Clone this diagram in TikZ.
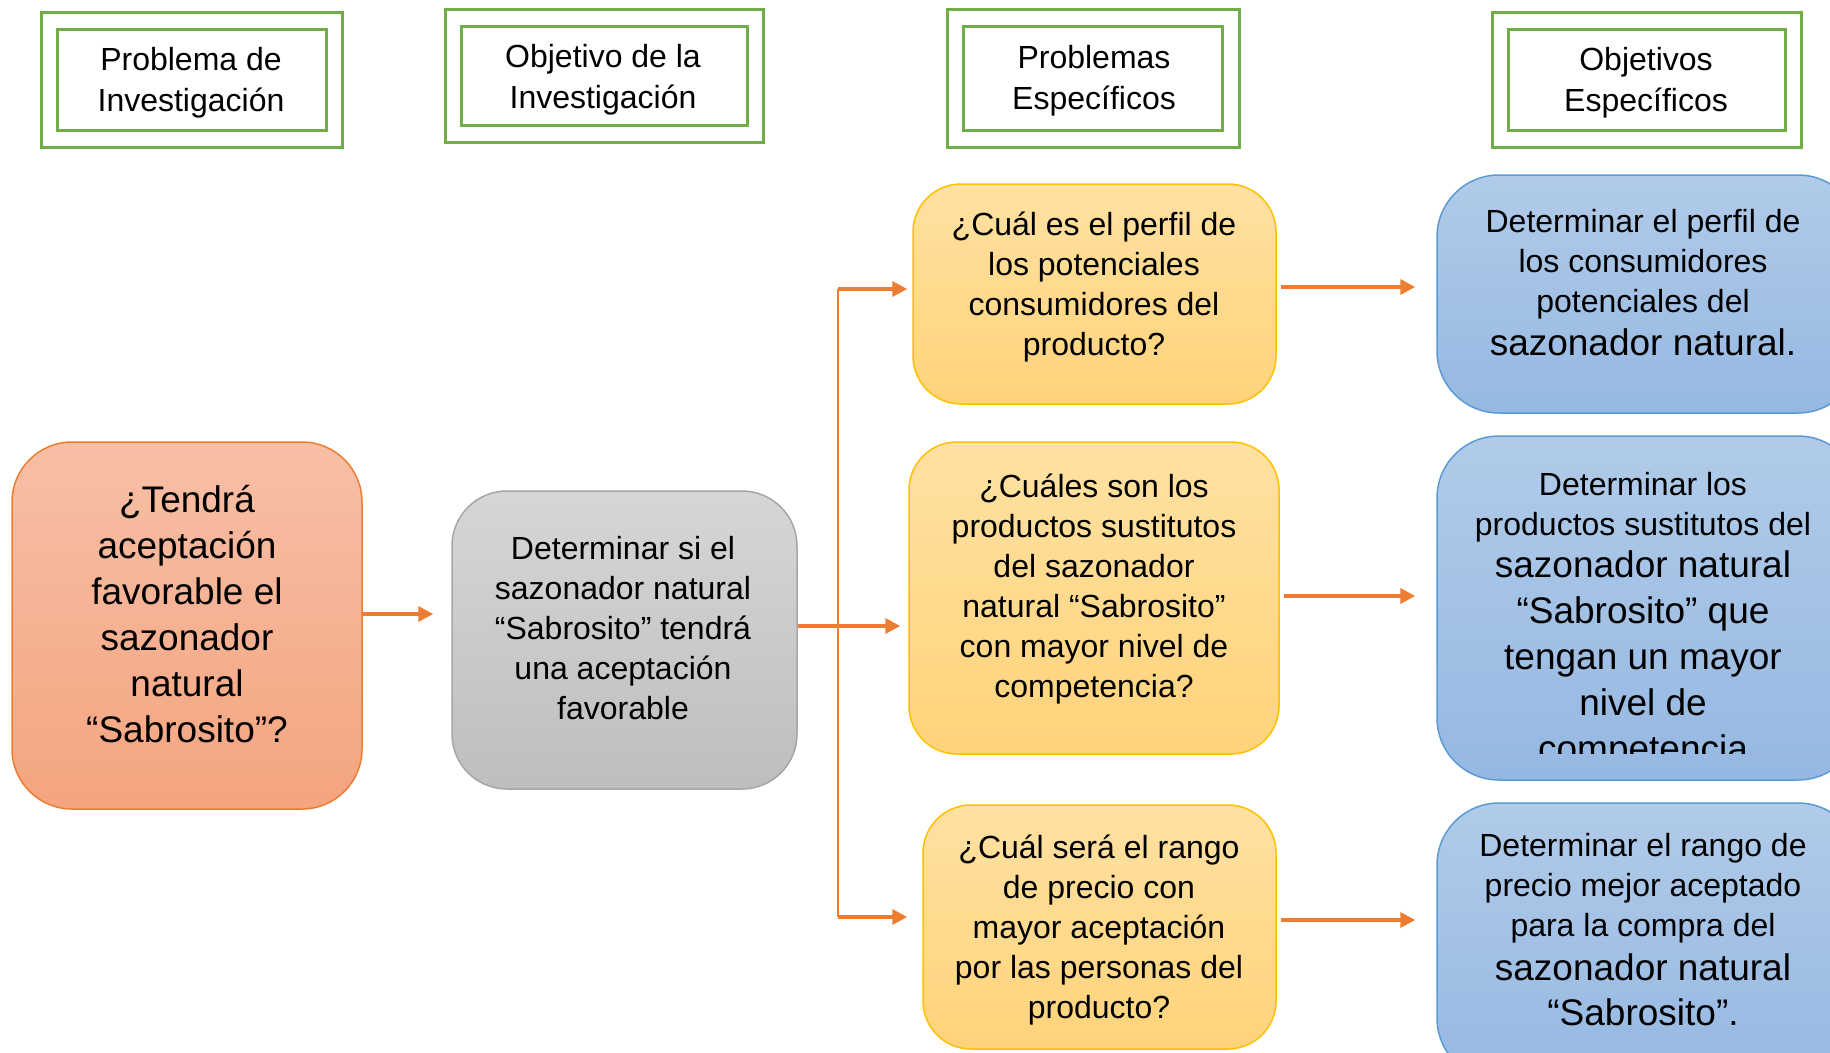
\documentclass[tikz,border=0pt]{standalone}
\usepackage{fontspec}
\setmainfont{Liberation Sans}
\usetikzlibrary{arrows.meta}
\definecolor{grn}{HTML}{70AD47}
\definecolor{org}{HTML}{ED7D31}
\definecolor{salT}{HTML}{F7BFA6}
\definecolor{salB}{HTML}{F4A47F}
\definecolor{gryT}{HTML}{D6D6D6}
\definecolor{gryB}{HTML}{BEBEBE}
\definecolor{gryD}{HTML}{A6A6A6}
\definecolor{ylwT}{HTML}{FFE1A2}
\definecolor{ylwB}{HTML}{FFD37A}
\definecolor{ylwD}{HTML}{FFC000}
\definecolor{bluT}{HTML}{B1CBE9}
\definecolor{bluB}{HTML}{95B8E2}
\definecolor{bluD}{HTML}{5B9BD5}
\newcommand{\smtxt}{\fontsize{32pt}{40pt}\selectfont}
\newcommand{\hdtxt}{\fontsize{32pt}{41pt}\selectfont}
\newcommand{\lgtxt}{\fontsize{37pt}{46pt}\selectfont}
\tikzset{
  hdrbox/.style={draw=grn, line width=3pt, inner sep=0pt},
  leftbox/.style={draw=org, line width=1.5pt, top color=salT, bottom color=salB, rounded corners=60pt, inner sep=0pt},
  graybox/.style={draw=gryD, line width=1.5pt, top color=gryT, bottom color=gryB, rounded corners=55pt, inner sep=0pt},
  ylwbox/.style={draw=ylwD, line width=1.5pt, top color=ylwT, bottom color=ylwB, rounded corners=48pt, inner sep=0pt},
  blubox/.style={draw=bluD, line width=1.5pt, top color=bluT, bottom color=bluB, rounded corners=62pt, inner sep=0pt},
  txt/.style={align=center, inner sep=0pt, font=\smtxt},
  hdr/.style={align=center, inner sep=0pt, font=\hdtxt},
  big/.style={align=center, inner sep=0pt, font=\lgtxt},
  arr/.style={draw=org, line width=3.5pt, -{Triangle[length=15pt,width=15pt]}},
  stem/.style={draw=org, line width=2.2pt},
}
\begin{document}
\begin{tikzpicture}[x=1pt,y=-1pt]
\clip (0,0) rectangle (1830,1052);
\fill[white] (0,0) rectangle (1830,1052);
% headers
\node[hdrbox, minimum width=301pt, minimum height=135pt] (h1o) at (191.5,79.5) {};
\node[hdrbox, minimum width=269pt, minimum height=101pt] (h1i) at (191.5,79.5) {};
\node[hdr] (h1t) at (191,82.5) {Problema de\\Investigación};
\node[hdrbox, minimum width=318pt, minimum height=133pt] (h2o) at (604,75.5) {};
\node[hdrbox, minimum width=286pt, minimum height=99pt] (h2i) at (604,75.5) {};
\node[hdr] (h2t) at (603,79.5) {Objetivo de la\\Investigación};
\node[hdrbox, minimum width=292pt, minimum height=138pt] (h3o) at (1093,78) {};
\node[hdrbox, minimum width=259pt, minimum height=104pt] (h3i) at (1093,78) {};
\node[hdr] (h3t) at (1094,80.5) {Problemas\\Específicos};
\node[hdrbox, minimum width=309pt, minimum height=135pt] (h4o) at (1646.5,79.5) {};
\node[hdrbox, minimum width=277pt, minimum height=101pt] (h4i) at (1646.5,79.5) {};
\node[hdr] (h4t) at (1646,82.5) {Objetivos\\Específicos};
% main boxes
\node[leftbox, minimum width=350pt, minimum height=367pt] (left) at (187,625.5) {};
\node[big] (leftt) at (187,614) {¿Tendrá\\aceptación\\favorable el\\sazonador\\natural\\“Sabrosito”?};
\node[graybox, minimum width=345pt, minimum height=298pt] (gray) at (624.5,640) {};
\node[txt] (grayt) at (623,628) {Determinar si el\\sazonador natural\\“Sabrosito” tendrá\\una aceptación\\favorable};
\node[ylwbox, minimum width=363pt, minimum height=220pt] (y1) at (1094.5,294) {};
\node[txt] (y1t) at (1094,287.5) {¿Cuál es el perfil de\\los potenciales\\consumidores del\\producto?};
\node[ylwbox, minimum width=370pt, minimum height=312pt] (y2) at (1094,598) {};
\node[txt] (y2t) at (1094,589.5) {¿Cuáles son los\\productos sustitutos\\del sazonador\\natural “Sabrosito”\\con mayor nivel de\\competencia?};
\node[ylwbox, minimum width=353pt, minimum height=244pt] (y3) at (1099.5,927) {};
\node[txt] (y3t) at (1099,930) {¿Cuál será el rango\\de precio con\\mayor aceptación\\por las personas del\\producto?};
\node[blubox, minimum width=423pt, minimum height=238pt] (b1) at (1648.5,294) {};
\node[txt] (b1t) at (1643,283) {Determinar el perfil de\\los consumidores\\potenciales del\\[3pt]\lgtxt sazonador natural.};
\node[blubox, minimum width=423pt, minimum height=344pt] (b2) at (1648.5,608) {};
\begin{scope}
\clip (1437,436) rectangle (1830,753);
\node[txt] (b2t) at (1643,621) {Determinar los\\productos sustitutos del\\[2pt]\lgtxt sazonador natural\\[6pt]\lgtxt “Sabrosito” que\\[6pt]\lgtxt tengan un mayor\\[6pt]\lgtxt nivel de\\[6pt]\lgtxt competencia};
\end{scope}
\node[blubox, minimum width=423pt, minimum height=277pt] (b3) at (1648.5,941.5) {};
\node[txt] (b3t) at (1643,929.5) {Determinar el rango de\\precio mejor aceptado\\para la compra del\\[4pt]\lgtxt sazonador natural\\[5pt]\lgtxt “Sabrosito”.};
% connectors
\coordinate (jt) at (838,289);
\coordinate (jm) at (838,626);
\coordinate (jb) at (838,917);
\draw[arr, shorten >=18pt] ([yshift=11.5pt]left.east) -- ([yshift=11.5pt]left.east -| gray.west);
\draw[stem] (jt) -- (jb);
\draw[arr, shorten >=8pt] (gray.east |- jm) -- (jm -| y2.west);
\draw[arr, shorten >=5pt] (jt) -- (jt -| y1.west);
\draw[arr, shorten >=15pt] (jb) -- (jb -| y3.west);
\draw[arr, shorten <=4pt, shorten >=21pt] ([yshift=7pt]y1.east) -- ([yshift=7pt]y1.east -| b1.west);
\draw[arr, shorten <=4pt, shorten >=21pt] ([yshift=2pt]y2.east) -- ([yshift=2pt]y2.east -| b2.west);
\draw[arr, shorten <=4pt, shorten >=21pt] ([yshift=7pt]y3.east) -- ([yshift=7pt]y3.east -| b3.west);
\end{tikzpicture}
\end{document}
